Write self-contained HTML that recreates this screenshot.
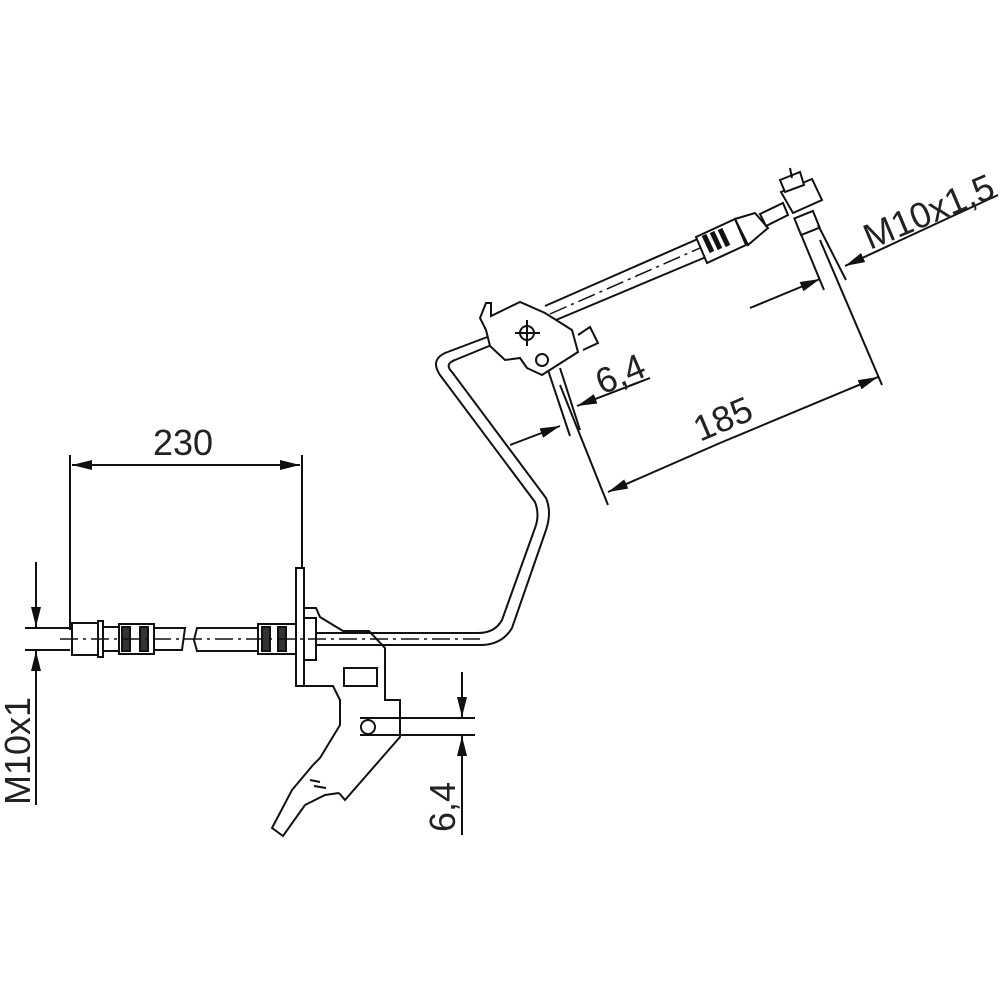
<!DOCTYPE html>
<html><head><meta charset="utf-8"><style>
html,body{margin:0;padding:0;background:#fff}
svg{display:block}
text{font-family:"Liberation Sans",sans-serif;font-size:36px;fill:#222}
</style></head><body>
<svg width="1000" height="1000" viewBox="0 0 1000 1000" xmlns="http://www.w3.org/2000/svg">
<defs>
<marker id="a" viewBox="0 0 20 10" refX="20" refY="5" markerWidth="20" markerHeight="10" markerUnits="userSpaceOnUse" orient="auto"><path d="M0,0L20,5L0,10z" fill="#111"/></marker>
</defs>
<g stroke="#111" stroke-width="2" fill="none">
<line x1="70" y1="455" x2="70" y2="630"/>
<line x1="302" y1="455" x2="302" y2="572"/>
<line x1="100" y1="465" x2="72" y2="465" marker-end="url(#a)"/>
<line x1="100" y1="465" x2="300" y2="465" marker-end="url(#a)"/>
<line x1="25" y1="628" x2="70" y2="628"/>
<line x1="25" y1="650" x2="70" y2="650"/>
<line x1="36" y1="562" x2="36" y2="627" marker-end="url(#a)"/>
<line x1="36" y1="805" x2="36" y2="651" marker-end="url(#a)"/>
<rect x="72" y="623" width="26" height="32" fill="#fff"/>
<rect x="98" y="621" width="5" height="36" fill="#fff"/>
<rect x="103" y="627" width="16" height="24"/>
<rect x="119" y="624" width="35" height="30" fill="#fff"/>
<rect x="122" y="627" width="8" height="24" fill="#333"/>
<rect x="140" y="627" width="8" height="24" fill="#333"/>
<path d="M154,628H185L182,650H154"/>
<path d="M197,628H258V651H197L194,640z"/>
<rect x="258" y="624" width="38" height="30" fill="#fff"/>
<rect x="262" y="627" width="8" height="24" fill="#333"/>
<rect x="278" y="627" width="8" height="24" fill="#333"/>
<rect x="296" y="568" width="8" height="118" fill="#fff"/>
<path d="M304,608H316L320,617L343,631H369L385,648V700H400V737L345,800L339,793"/>
<path d="M304,686H333L340,700V725L320,758L313,765"/>
<rect x="344" y="668" width="33" height="18"/>
<path d="M313,765L292,790L272,828L283,836L305,805L325,795L339,793"/>
<line x1="310" y1="780" x2="320" y2="782"/><line x1="314" y1="786" x2="326" y2="788"/>
<rect x="304" y="618" width="12" height="42" fill="#fff"/>
<path d="M316,633H478Q495,633 502,620L535,528Q540,515 535,502L440,375Q430,360 445,353L490,336"/>
<path d="M316,645H480Q502,645 512,628L546,530Q552,512 546,498L452,372Q444,364 455,360L494,344"/>
<line x1="60" y1="639" x2="480" y2="639" stroke-dasharray="18,5,3,5" stroke-width="1.5"/>
<circle cx="368" cy="727" r="7" fill="#fff"/>
<line x1="360" y1="718" x2="475" y2="718"/>
<line x1="360" y1="735" x2="475" y2="735"/>
<line x1="462" y1="672" x2="462" y2="717" marker-end="url(#a)"/>
<line x1="462" y1="835" x2="462" y2="736" marker-end="url(#a)"/>
<path d="M480,318L486,303H491V316L520,302L545,313L572,330L578,352L542,375L527,368L520,358L505,360L490,346L486,330z" fill="#fff"/>
<circle cx="527" cy="333" r="7"/>
<line x1="515" y1="333" x2="540" y2="333"/><line x1="527" y1="320" x2="527" y2="346"/>
<circle cx="542" cy="360" r="6"/>
<path d="M578,335L590,327L598,343L583,350"/>
<line x1="545" y1="306" x2="700" y2="238"/>
<line x1="556" y1="320" x2="706" y2="257"/>
<line x1="550" y1="314" x2="700" y2="248" stroke-dasharray="18,5,3,5" stroke-width="1.5"/>
<path d="M696,237L735,219L746,245L707,263z" fill="#fff"/>
<path d="M704,235L712,252M720,229L728,246M712,232L720,249" stroke-width="5"/>
<path d="M735,219L755,213L768,228L748,245z" fill="#fff"/>
<path d="M760,214L783,203L788,215L766,226z" fill="#fff"/>
<path d="M781,192L812,179L822,200L793,213z" fill="#fff"/>
<path d="M780,180L800,172L804,185L785,192z" fill="#fff"/>
<line x1="790" y1="168" x2="792" y2="178"/>
<rect x="797" y="214" width="20" height="18" transform="rotate(-22 807 223)" fill="#fff"/>
<line x1="548" y1="370" x2="570" y2="436"/>
<line x1="560" y1="368" x2="580" y2="430"/>
<line x1="510" y1="445" x2="560" y2="426" marker-end="url(#a)"/>
<line x1="650" y1="378" x2="577" y2="406" marker-end="url(#a)"/>
<line x1="560" y1="385" x2="608" y2="505"/>
<line x1="820" y1="240" x2="882" y2="385"/>
<line x1="720" y1="443" x2="608" y2="492" marker-end="url(#a)"/>
<line x1="720" y1="443" x2="878" y2="377" marker-end="url(#a)"/>
<line x1="800" y1="232" x2="824" y2="290"/>
<line x1="818" y1="225" x2="846" y2="280"/>
<line x1="750" y1="308" x2="820" y2="279" marker-end="url(#a)"/>
<line x1="998" y1="195" x2="845" y2="266" marker-end="url(#a)"/>
</g>
<text x="153" y="455">230</text>
<text transform="translate(30,805) rotate(-90)">M10x1</text>
<text transform="translate(455,832) rotate(-90)">6,4</text>
<text transform="translate(602,395) rotate(-23)">6,4</text>
<text transform="translate(700,442) rotate(-23)">185</text>
<text transform="translate(870,250) rotate(-23)">M10x1,5</text>
</svg>
</body></html>
